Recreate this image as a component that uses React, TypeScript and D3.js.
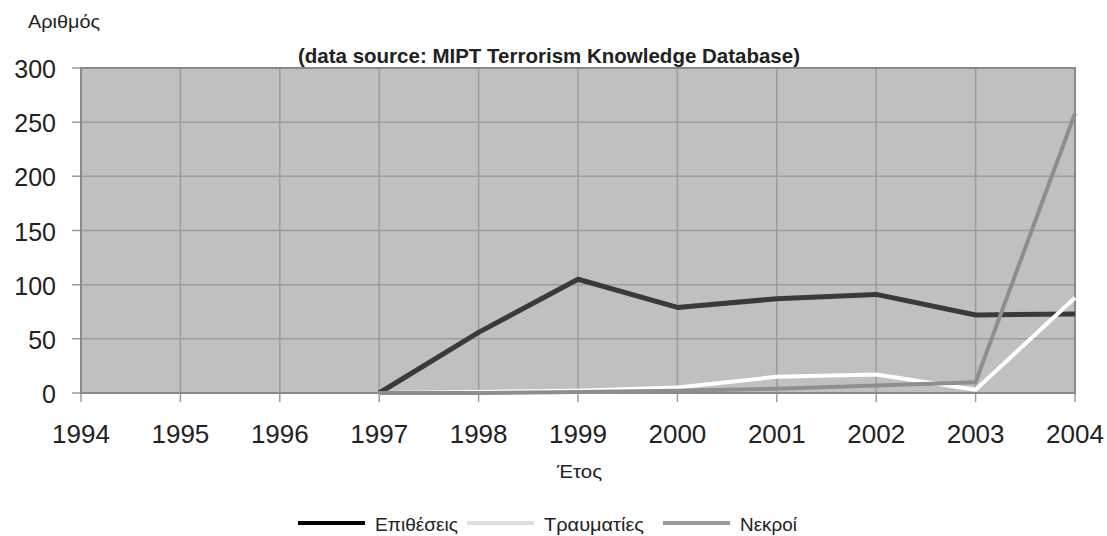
import React from 'react'
import * as d3 from 'd3'

const years = [1994, 1995, 1996, 1997, 1998, 1999, 2000, 2001, 2002, 2003, 2004]
const attacks = [null, null, null, 0, 56, 105, 79, 87, 91, 72, 73]
const injured = [null, null, null, 0, 1, 2, 5, 15, 17, 3, 88]
const killed = [null, null, null, 0, 0, 1, 2, 4, 7, 10, 258]
const yTicks = [0, 50, 100, 150, 200, 250, 300]

const W = 1107, H = 536
const margin = {top: 68, right: 32, bottom: 143, left: 81}
const sans = '"Liberation Sans", Arial, sans-serif'

const series = [
  {name: 'Επιθέσεις', values: attacks, stroke: '#3a3a3a', legend: '#000000', width: 5, lx: 298, tw: 83},
  {name: 'Τραυματίες', values: injured, stroke: '#ffffff', legend: '#dedede', width: 4, lx: 467, tw: 100},
  {name: 'Νεκροί', values: killed, stroke: '#8e8e8e', legend: '#9a9a9a', width: 4, lx: 663, tw: 57},
]

export default function App() {
  const iw = W - margin.left - margin.right
  const ih = H - margin.top - margin.bottom
  const x = d3.scaleLinear().domain([1994, 2004]).range([margin.left, margin.left + iw])
  const y = d3.scaleLinear().domain([0, 300]).range([margin.top + ih, margin.top])

  const line = d3.line<number | null>()
    .defined(d => d !== null)
    .x((_, i) => x(years[i]))
    .y(d => y(d as number))

  return (
    <svg width={W} height={H} style={{position: 'absolute', left: 0, top: 0, background: '#fff'}}>
      <text x={28} y={28} fontFamily={sans} fontSize={18} textLength={72} lengthAdjust="spacingAndGlyphs" fill="#222">Αριθμός</text>
      <rect x={margin.left} y={margin.top} width={iw} height={ih} fill="#c0c0c0" />
      {yTicks.map(t => (
        <g key={t}>
          <line x1={margin.left - 9} x2={margin.left + iw} y1={y(t)} y2={y(t)} stroke="#9c9c9c" strokeWidth={1.5} />
          <text x={56} y={y(t) + 10} textAnchor="end" fontFamily={sans} fontSize={25} fill="#222">{t}</text>
        </g>
      ))}
      {years.map(yr => (
        <g key={yr}>
          <line x1={x(yr)} x2={x(yr)} y1={margin.top} y2={margin.top + ih + 9} stroke="#9c9c9c" strokeWidth={1.5} />
          <text x={x(yr)} y={443} textAnchor="middle" fontFamily={sans} fontSize={26} fill="#222">{yr}</text>
        </g>
      ))}
      <rect x={margin.left} y={margin.top} width={iw} height={ih} fill="none" stroke="#8a8a8a" strokeWidth={2} />
      <text x={549} y={63} textAnchor="middle" fontFamily={sans} fontWeight="bold" fontSize={20.5} fill="#222">
        (data source: MIPT Terrorism Knowledge Database)
      </text>
      {series.map(s => (
        <path key={s.name} d={line(s.values) || ''} fill="none" stroke={s.stroke} strokeWidth={s.width} strokeLinejoin="round" />
      ))}
      <text x={557} y={478} fontFamily={sans} fontSize={18} textLength={45} lengthAdjust="spacingAndGlyphs" fill="#222">Έτος</text>
      {series.map(s => (
        <g key={s.name}>
          <line x1={s.lx} x2={s.lx + 67} y1={523} y2={523} stroke={s.legend} strokeWidth={4} />
          <text x={s.lx + 77} y={531} fontFamily={sans} fontSize={18} textLength={s.tw} lengthAdjust="spacingAndGlyphs" fill="#222">{s.name}</text>
        </g>
      ))}
    </svg>
  )
}
